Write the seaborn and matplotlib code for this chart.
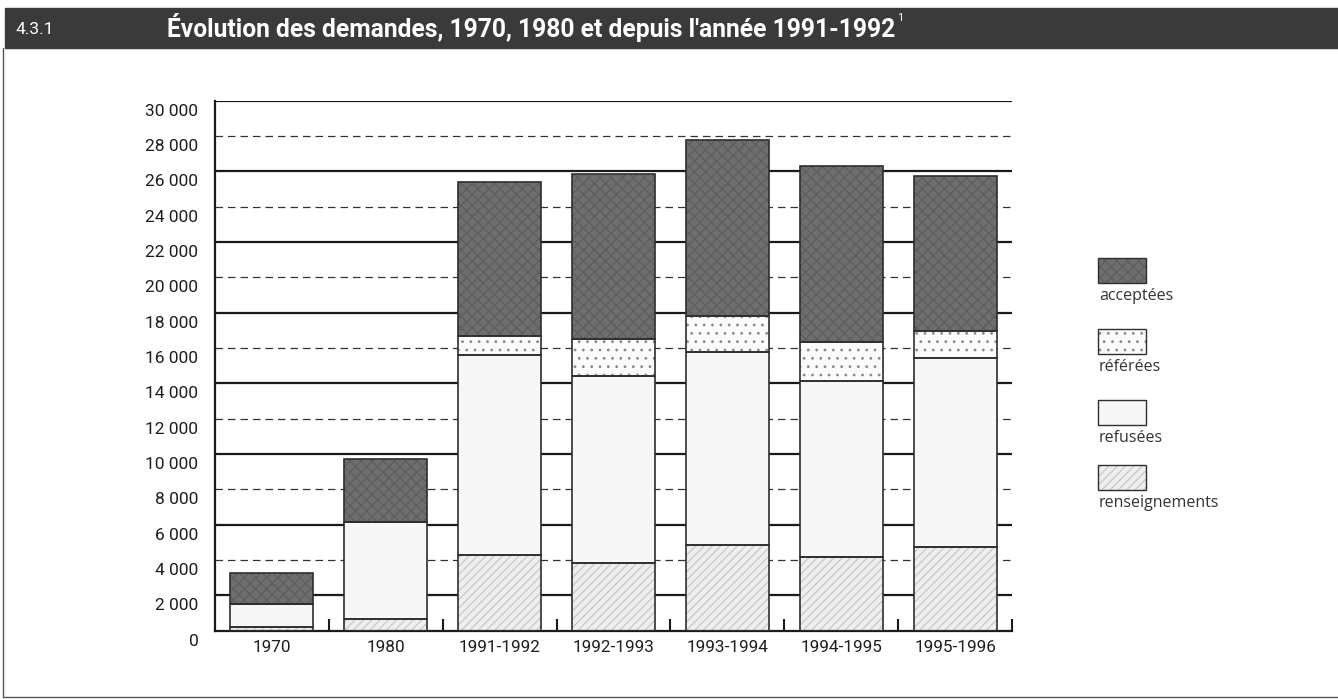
import numpy as np
import matplotlib
matplotlib.use("Agg")
import matplotlib.pyplot as plt
import matplotlib.transforms as mtransforms
from matplotlib.patches import Rectangle
from matplotlib.lines import Line2D
import seaborn as sns

# Demandes par année
years = ['1970', '1980', '1991-1992', '1992-1993', '1993-1994', '1994-1995', '1995-1996']
renseignements = [200, 650, 4300, 3830, 4870, 4150, 4750]
refusees = [1310, 5520, 11300, 10590, 10920, 9980, 10700]
referees = [0, 0, 1100, 2070, 2020, 2230, 1510]
acceptees = [1770, 3530, 8720, 9340, 9970, 9940, 8800]

legend_labels = ['acceptées', 'référées', 'refusées', 'renseignements']
y_ticks = list(range(0, 30001, 2000))

W, H = 1338, 699
NARROW = ['Roboto', 'DejaVu Sans']

sns.set_style("white")
plt.rcParams['hatch.linewidth'] = 0.8

fig = plt.figure(figsize=(W / 100, H / 100), dpi=100)
ax = fig.add_axes([215 / W, 68.3 / H, 797 / W, 530 / H])

# styles: (face, hatch, hatch colour)
styles = {
    'renseignements': ('#eeeeee', '////', '#c4c4c4'),
    'refusées': ('#f7f7f7', None, '#f7f7f7'),
    'référées': ('#fbfbfb', '..', '#8a8a8a'),
    'acceptées': ('#6e6e6e', 'xxx', '#5c5c5c'),
}

layers = [('renseignements', renseignements), ('refusées', refusees),
          ('référées', referees), ('acceptées', acceptees)]

bottom = np.zeros(len(years))
for name, vals in layers:
    face, hatch, hcol = styles[name]
    sns.barplot(x=years, y=vals, bottom=bottom, color=face, width=0.73,
                errorbar=None, edgecolor=hcol, linewidth=0, hatch=hatch,
                ax=ax, zorder=2)
    sns.barplot(x=years, y=vals, bottom=bottom, color='#2e2e2e', fill=False,
                width=0.73, errorbar=None, linewidth=1.2, ax=ax, zorder=3)
    bottom = bottom + np.array(vals)

ax.set_xlim(-0.5, 6.5)
ax.set_ylim(0, 30000)

# grid lines: solid at 2000 + 4000k, dashed at 4000k
for v in y_ticks[1:]:
    if (v // 2000) % 2 == 1 or v == 30000:
        ax.axhline(v, color='#1a1a1a', lw=1.6, zorder=0)
    else:
        ax.axhline(v, color='#333333', lw=0.9, ls=(0, (6, 4)), zorder=0)

for s in ['top', 'right']:
    ax.spines[s].set_visible(False)
for s in ['left', 'bottom']:
    ax.spines[s].set_color('#1a1a1a')
    ax.spines[s].set_linewidth(1.6)

ax.set_yticks(y_ticks)
ax.set_yticklabels([f"{v:,}".replace(',', ' ') for v in y_ticks],
                   family=NARROW, fontsize=12.5, color='#1e1e1e')
ax.tick_params(axis='y', length=0, pad=12)
offset = mtransforms.ScaledTranslation(0, -9 / 100, fig.dpi_scale_trans)
for lab in ax.get_yticklabels():
    lab.set_transform(lab.get_transform() + offset)

ax.set_xticks(range(len(years)))
ax.set_xticklabels(years, family=NARROW, fontsize=12.3, color='#1e1e1e')
ax.set_xticks(np.arange(0.5, len(years), 1), minor=True)
ax.tick_params(axis='x', which='major', bottom=False, length=0, pad=7)
ax.tick_params(axis='x', which='minor', bottom=True, direction='in', length=9,
               width=1.5, color='#1a1a1a')
ax.set_xlabel('')
ax.set_ylabel('')

# title bar
fig.patches.append(Rectangle((5 / W, 1 - 48 / H), 1 - 5 / W, 40 / H,
                             transform=fig.transFigure, color='#3a3a3a', zorder=0))
fig.text(15 / W, 1 - 30 / H, '4.3.1', color='white', fontsize=12.5,
         family=NARROW, va='center', ha='left')
t = fig.text(167 / W, 1 - 28 / H,
             "Évolution des demandes, 1970, 1980 et depuis l'année 1991-1992",
             color='white', fontsize=18, fontweight='bold', family=NARROW,
             va='center', ha='left')
fig.canvas.draw()
bb = t.get_window_extent()
t.set_fontsize(18 * 728 / bb.width)
fig.canvas.draw()
bb = t.get_window_extent()
fig.text(bb.x1 / W + 2 / W, 1 - 18 / H, '1', color='white', fontsize=8,
         family=NARROW, va='center', ha='left')

# outer frame
fig.add_artist(Line2D([3 / W, 3 / W], [1 - 48 / H, 1 - 697 / H],
                      transform=fig.transFigure, color='#555555', lw=1))
fig.add_artist(Line2D([3 / W, 1], [1 - 697 / H, 1 - 697 / H],
                      transform=fig.transFigure, color='#555555', lw=1))

# legend
key_tops = [258, 329, 400, 465]
for lab, top in zip(legend_labels, key_tops):
    face, hatch, hcol = styles[lab]
    fig.patches.append(Rectangle((1098 / W, 1 - (top + 25) / H), 48 / W, 25 / H,
                                 transform=fig.transFigure, facecolor=face,
                                 edgecolor=hcol, lw=0, hatch=hatch))
    fig.patches.append(Rectangle((1098 / W, 1 - (top + 25) / H), 48 / W, 25 / H,
                                 transform=fig.transFigure, fill=False,
                                 edgecolor='#2e2e2e', lw=1))
    fig.text(1099 / W, 1 - (top + 38) / H, lab, family=['Open Sans', 'DejaVu Sans'],
             fontsize=11.5, color='#333333', va='center', ha='left')

fig.savefig('out.png', dpi=100)
